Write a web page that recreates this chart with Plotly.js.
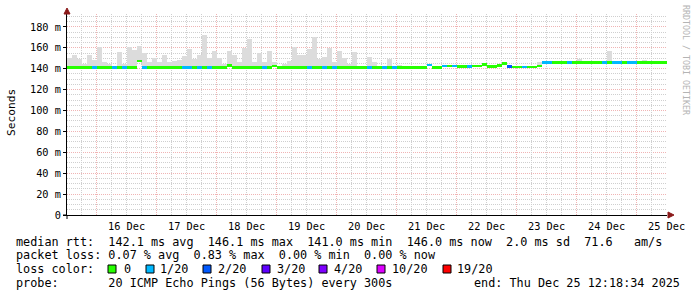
<!DOCTYPE html>
<html>
<head>
<meta charset="utf-8">
<script src="https://cdn.plot.ly/plotly-3.0.1.min.js"></script>
<style>html,body{margin:0;padding:0;background:#fff;}#chart{width:697px;height:297px;}</style>
</head>
<body>
<div id="chart"></div>
<script>
// ---- time frame (10 days ending at "end") ----
const startTime = '2025-12-15 12:18:34';
const endTime = '2025-12-25 12:18:34';
const stepHours = 2;

// ---- day tick labels (centred at noon of each day) ----
const dayNoons = ['2025-12-16 12:00','2025-12-17 12:00','2025-12-18 12:00','2025-12-19 12:00','2025-12-20 12:00',
                  '2025-12-21 12:00','2025-12-22 12:00','2025-12-23 12:00','2025-12-24 12:00','2025-12-25 12:00'];
const dayLabels = ['16 Dec','17 Dec','18 Dec','19 Dec','20 Dec','21 Dec','22 Dec','23 Dec','24 Dec','25 Dec'];
// day boundaries (major vertical grid)
const dayMidnights = ['2025-12-16','2025-12-17','2025-12-18','2025-12-19','2025-12-20',
                      '2025-12-21','2025-12-22','2025-12-23','2025-12-24','2025-12-25'];

// ---- y ticks ----
const yTickVals = [0,20,40,60,80,100,120,140,160,180];
const yTickText = ['0','20 m','40 m','60 m','80 m','100 m','120 m','140 m','160 m','180 m'];

// ---- median rtt (ms) per 2h step ----
const median = [
 141.2,141.2,141.2,141.2,141.2,141.2,141.2,141.2,141.2,141.2,
 141.2,141.2,141.2,141.2,147.0,141.2,141.2,141.2,141.2,141.2,
 141.2,141.2,141.2,141.2,141.2,141.2,141.2,141.2,141.2,141.2,
 141.2,141.2,143.0,141.2,141.2,141.2,141.2,141.2,141.2,141.2,
 141.2,142.5,141.2,141.2,141.2,141.2,141.2,141.2,141.2,141.2,
 141.2,141.2,141.2,141.2,141.2,141.2,141.2,141.2,141.2,141.2,
 141.2,141.2,141.2,141.2,141.2,141.2,141.2,141.2,141.2,141.2,
 141.2,141.2,143.4,141.2,141.2,142.5,142.5,142.5,142.0,142.0,
 142.0,142.5,142.5,144.0,142.0,142.0,143.0,145.0,142.0,141.5,
 141.5,141.5,141.5,141.5,142.5,146.0,146.0,146.0,146.0,146.0,
 146.0,146.0,146.0,146.0,146.0,146.0,146.0,146.0,146.0,146.0,
 146.0,146.0,146.0,146.0,146.0,146.0,146.0,146.0,146.0,146.0
];

// ---- smoke top (max of the 20 pings, ms) per step ----
const smokeMax = [
 150.5,152.7,149.5,145.0,152.7,148.0,161.0,146.3,145.0,142.0,
 156.2,145.0,161.0,157.7,162.0,155.0,146.0,150.0,146.0,153.6,
 146.0,147.0,148.0,152.5,159.0,149.0,152.7,172.6,150.0,157.0,
 150.5,145.0,157.4,152.7,146.0,159.5,168.0,146.0,155.0,146.0,
 157.0,146.0,142.0,145.0,147.0,161.0,153.6,153.6,158.5,170.5,
 149.0,151.0,159.5,146.0,157.0,150.0,145.0,155.6,143.0,143.0,
 151.4,146.0,142.0,142.0,149.0,142.0,144.0,142.0,142.0,142.0,
 142.0,142.0,143.5,142.0,142.0,142.6,142.6,142.6,142.0,142.0,
 142.0,142.6,142.6,144.0,142.0,142.0,143.0,145.0,142.0,141.6,
 141.6,141.6,141.6,141.6,146.0,146.5,146.5,146.5,146.5,146.5,
 146.5,146.5,149.0,146.5,146.5,146.5,146.5,146.5,157.0,146.5,
 146.5,146.5,146.5,146.5,146.5,148.0,146.5,146.5,146.5,146.5
];

// ---- packet loss (pings lost out of 20) per step ----
const loss = [
 0,0,0,0,0,1,0,0,0,1,
 0,1,0,0,0,1,0,0,0,0,
 0,0,0,1,1,0,1,0,1,0,
 0,0,0,0,0,0,0,0,0,1,
 0,0,0,0,0,0,0,0,1,0,
 0,1,0,1,0,0,0,0,0,0,
 1,0,0,1,0,1,0,0,0,0,
 0,0,1,0,0,1,0,1,0,0,
 1,0,0,0,0,0,0,0,2,0,
 0,1,0,0,0,1,1,0,0,0,
 1,0,0,0,0,0,0,1,0,1,
 1,0,1,1,0,0,0,0,0,0
];

// ---- loss colour legend ----
const lossLevels = [0,1,2,3,4,10,19];
const lossLabels = ['0','1/20','2/20','3/20','4/20','10/20','19/20'];
const lossColors = ['#26ff00','#00b8ff','#0059ff','#5e00ff','#7e00ff','#dd00ff','#ff0000'];

// ---- summary texts ----
const rttStats = ['142.1','146.1','141.0','146.0','2.0','71.6'];
const lossStats = ['0.07','0.83','0.00','0.00'];
const probeText = '20 ICMP Echo Pings (56 Bytes) every 300s';
const endText = 'Thu Dec 25 12:18:34 2025';

// ---------------------------------------------------------------
const MONO = 'DejaVu Sans Mono, monospace';
const stepMs = stepHours * 3600 * 1000;
const t0 = Date.UTC(2025, 11, 15, 12, 18, 34);
const t1 = Date.UTC(2025, 11, 25, 12, 18, 34);
const fmt = ms => new Date(ms).toISOString().replace('T',' ').replace('Z','');
const times = median.map((_, i) => fmt(t0 + (i + 0.5) * stepMs));

// minor vertical grid: every 6 hours, except day boundaries (drawn by the major grid)
const minorGridTimes = [];
for (let t = Date.UTC(2025, 11, 15, 18); t < t1; t += 6 * 3600 * 1000) {
  if (new Date(t).getUTCHours() !== 0) minorGridTimes.push(fmt(t));
}

function colorForLoss(l) {
  let c = lossColors[0];
  for (let k = 0; k < lossLevels.length; k++) if (l >= lossLevels[k]) c = lossColors[k];
  return c;
}

// smoke on the main axis, median on the overlaid axis so it is drawn on top
const smokeTrace = {
  type: 'bar', x: times, base: median, y: smokeMax.map((v, i) => v - median[i]),
  width: stepMs, marker: {color: '#dcdcdc', line: {width: 0}}, hoverinfo: 'skip', xaxis: 'x', yaxis: 'y'
};
const medianTrace = {
  type: 'bar', x: times, base: median.map(v => v - 1.0), y: median.map(() => 2.2),
  width: stepMs, marker: {color: loss.map(colorForLoss), line: {width: 0}}, hoverinfo: 'skip', xaxis: 'x2', yaxis: 'y'
};

// pixel -> paper helpers (plot area: x 67..667, y 14..215)
const PX = x => (x - 67) / 600;
const PY = y => (215 - y) / 201;
const nb = s => s.replace(/ /g, '\u00a0');

const annotations = [];
function addText(text, x, y, opts) {
  annotations.push(Object.assign({
    text: nb(text), xref: 'paper', yref: 'paper', x: PX(x), y: PY(y),
    xanchor: 'left', yanchor: 'middle', showarrow: false,
    font: {family: MONO, size: 11.8, color: '#000'}, borderpad: 0
  }, opts || {}));
}
// day labels (centred at noon, below the axis)
dayLabels.forEach((lab, k) => annotations.push({
  text: nb(lab), xref: 'x', yref: 'paper', x: dayNoons[k], y: PY(225.5), xanchor: 'center', yanchor: 'middle',
  showarrow: false, font: {family: MONO, size: 10.3, color: '#000'}, borderpad: 0
}));
addText('Seconds', 11, 113, {xanchor: 'center', textangle: -90, font: {family: MONO, size: 11.2, color: '#000'}});
addText('RRDTOOL / TOBI OETIKER', 686, 60, {xanchor: 'center', textangle: 90, font: {family: MONO, size: 8.3, color: '#b4b4b4'}});
addText('median rtt:  ' + rttStats[0] + ' ms avg  ' + rttStats[1] + ' ms max  ' + rttStats[2] + ' ms min  ' +
        rttStats[3] + ' ms now  ' + rttStats[4] + ' ms sd  ' + rttStats[5] + '   am/s', 15, 241.5);
addText('packet loss: ' + lossStats[0] + ' % avg  ' + lossStats[1] + ' % max  ' + lossStats[2] + ' % min  ' +
        lossStats[3] + ' % now', 15, 255);
addText('loss color:', 15, 269);
addText('probe:       ' + probeText, 15, 283);
addText('end: ' + endText, 681, 283, {xanchor: 'right'});

const majorGrid = '#f0b4b4';
const minorGrid = '#cfcfcf';

const legendBoxX = [108, 146, 203, 262, 319, 377, 443];
const legendTextX = [123, 159, 217, 276, 333, 391, 456];
const shapes = [];
lossLabels.forEach((lab, k) => {
  shapes.push({type: 'rect', xref: 'paper', yref: 'paper', x0: PX(legendBoxX[k]), x1: PX(legendBoxX[k] + 8),
    y0: PY(273), y1: PY(265), fillcolor: lossColors[k], line: {color: '#000', width: 1}});
  addText(lab, legendTextX[k], 269);
});
// axis extensions and arrows
shapes.push({type: 'line', xref: 'paper', yref: 'paper', x0: PX(63), x1: PX(67), y0: 0, y1: 0, line: {color: '#000', width: 1}});
shapes.push({type: 'line', xref: 'paper', yref: 'paper', x0: 0, x1: 0, y0: PY(219), y1: 0, line: {color: '#000', width: 1}});
shapes.push({type: 'path', xref: 'paper', yref: 'paper',
  path: `M ${PX(64)},${PY(14)} L ${PX(70)},${PY(14)} L ${PX(67)},${PY(8)} Z`, fillcolor: '#8b1a1a', line: {color: '#8b1a1a', width: 1}});
shapes.push({type: 'path', xref: 'paper', yref: 'paper',
  path: `M ${PX(668)},${PY(212)} L ${PX(668)},${PY(218)} L ${PX(674)},${PY(215)} Z`, fillcolor: '#8b1a1a', line: {color: '#8b1a1a', width: 1}});

const layout = {
  width: 697, height: 297,
  margin: {l: 67, r: 30, t: 14, b: 82, pad: 0},
  paper_bgcolor: '#ffffff', plot_bgcolor: '#ffffff',
  showlegend: false, barmode: 'overlay', bargap: 0,
  xaxis: {
    type: 'date', range: [startTime, endTime],
    tickmode: 'array', tickvals: dayMidnights, showticklabels: false, ticks: '',
    showgrid: true, gridcolor: majorGrid, griddash: '1px,1px', gridwidth: 1,
    showline: true, linecolor: '#000', linewidth: 1, zeroline: false, fixedrange: true
  },
  xaxis2: {
    type: 'date', overlaying: 'x', anchor: 'y', side: 'bottom', range: [startTime, endTime],
    showticklabels: false, tickmode: 'array', tickvals: minorGridTimes, ticks: '',
    showgrid: true, gridcolor: minorGrid, griddash: '1px,1px', gridwidth: 1,
    showline: false, zeroline: false, fixedrange: true
  },
  yaxis: {
    range: [0, 192.4], tickmode: 'array', tickvals: yTickVals, ticktext: yTickText,
    tickfont: {family: MONO, size: 10.3, color: '#000'},
    ticks: 'outside', ticklen: 3, tickcolor: '#000', tickwidth: 1,
    showgrid: true, gridcolor: majorGrid, griddash: '1px,1px', gridwidth: 1,
    minor: {tickmode: 'linear', dtick: 5, tick0: 0, showgrid: true, gridcolor: minorGrid, griddash: '1px,1px', gridwidth: 1},
    showline: true, linecolor: '#000', linewidth: 1, zeroline: false, fixedrange: true
  },
  annotations: annotations,
  shapes: shapes
};

Plotly.newPlot('chart', [smokeTrace, medianTrace], layout, {displayModeBar: false, staticPlot: true});
</script>
</body>
</html>
